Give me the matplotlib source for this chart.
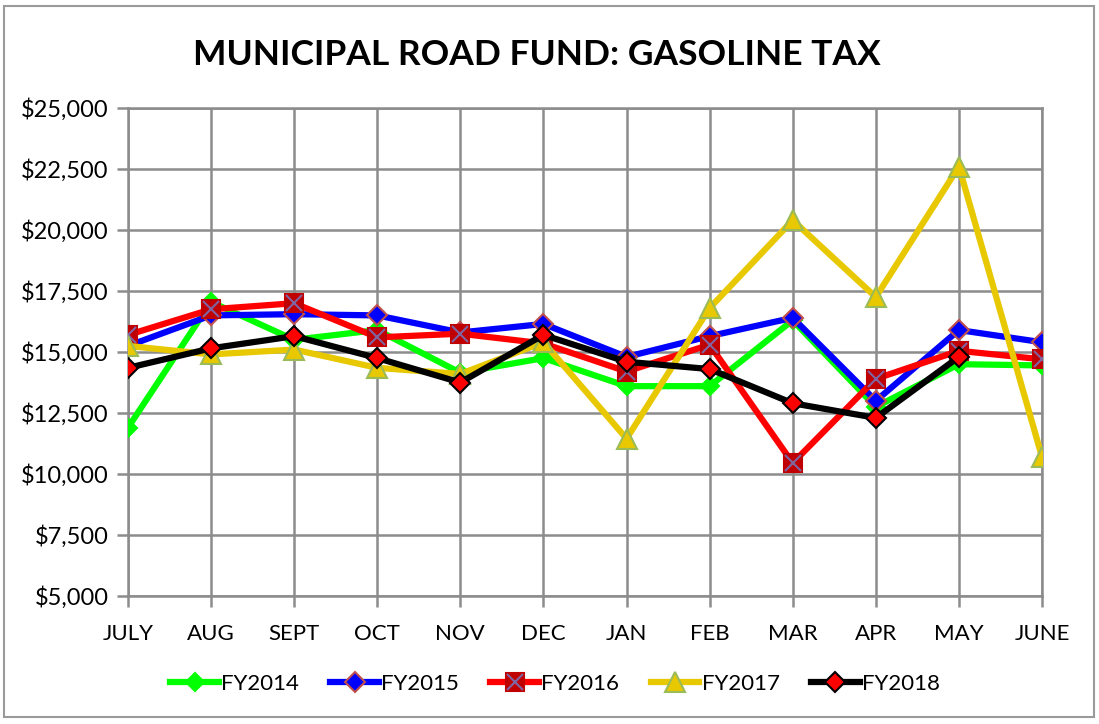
import numpy as np
import matplotlib
matplotlib.use("Agg")
import matplotlib.pyplot as plt
from matplotlib.patches import Rectangle

months = ["JULY", "AUG", "SEPT", "OCT", "NOV", "DEC", "JAN", "FEB", "MAR", "APR", "MAY", "JUNE"]

fy2014 = [11900, 17050, 15500, 15900, 14150, 14750, 13600, 13600, 16300, 12750, 14500, 14450]
fy2015 = [15250, 16500, 16550, 16500, 15800, 16150, 14800, 15650, 16400, 13000, 15900, 15400]
fy2016 = [15700, 16750, 17000, 15600, 15750, 15350, 14200, 15300, 10450, 13900, 15050, 14700]
fy2017 = [15250, 14900, 15100, 14350, 14100, 15400, 11450, 16800, 20400, 17250, 22600, 10700]
fy2018 = [14350, 15150, 15650, 14750, 13750, 15700, 14600, 14300, 12900, 12300, 14800, np.nan]

plt.rcParams['font.family'] = ['Lato', 'DejaVu Sans']

fig = plt.figure(figsize=(10.99, 7.24), dpi=100)
ax = fig.add_axes([128 / 1099, 1 - 596 / 724, (1042 - 128) / 1099, (596 - 108) / 724])

# chart border
fig.patches.append(Rectangle((4 / 1099, 7 / 724), 1090 / 1099, 711 / 724,
                             transform=fig.transFigure, fill=False,
                             edgecolor="#9a9a9a", lw=1.5))

x = np.arange(len(months))
series = [
    ("FY2014", fy2014, "#00ff00", "D", "#00ff00", "#00ff00", 9),
    ("FY2015", fy2015, "#0000ff", "D", "#0000ff", "#c0504d", 10),
    ("FY2016", fy2016, "#ff0000", "s", "#c00000", "#c00000", 13),
    ("FY2017", fy2017, "#e8c800", "^", "#e8c800", "#9bbb59", 14),
    ("FY2018", fy2018, "#000000", "D", "#ff0000", "#000000", 10),
]
handles = []
labels = []
for i, (name, vals, lc, mk, mfc, mec, ms) in enumerate(series):
    ln, = ax.plot(x, vals, color=lc, lw=4.5, marker=mk, markerfacecolor=mfc,
                  markeredgecolor=mec, markersize=ms, markeredgewidth=1.5,
                  zorder=3 + i)
    h = ln
    if name == "FY2016":
        xm, = ax.plot(x, vals, ls="none", marker="x", markersize=ms - 2,
                      markeredgecolor="#8064a2", markeredgewidth=1.5, zorder=3 + i)
        h = (ln, xm)
    handles.append(h)
    labels.append(name)

ax.set_xlim(0, 11)
ax.set_ylim(5000, 25000)
ax.set_xticks(x)
ax.set_xticklabels(months)
yt = np.arange(5000, 25001, 2500)
ax.set_yticks(yt)
ax.set_yticklabels([f"${v:,.0f}" for v in yt])
ax.grid(True, color="#8c8c8c", lw=1.8)
ax.set_axisbelow(True)
for s in ax.spines.values():
    s.set_color("#8c8c8c")
    s.set_linewidth(1.8)
ax.tick_params(axis="both", colors="#8c8c8c", width=1.8, length=8,
               labelcolor="black")
ax.tick_params(axis="x", pad=12, labelsize=16)
ax.tick_params(axis="y", pad=6, labelsize=17)

fig.text(537 / 1099, 1 - 55 / 724, "MUNICIPAL ROAD FUND: GASOLINE TAX",
         ha="center", va="center", fontsize=25.5, fontweight="bold")

fig.legend(handles, labels, loc="center", bbox_to_anchor=(555 / 1099, 1 - 684 / 724),
           ncol=5, frameon=False, fontsize=16, handlelength=2.2, columnspacing=1.4,
           handletextpad=0.1)

fig.savefig("out.png", dpi=100)
